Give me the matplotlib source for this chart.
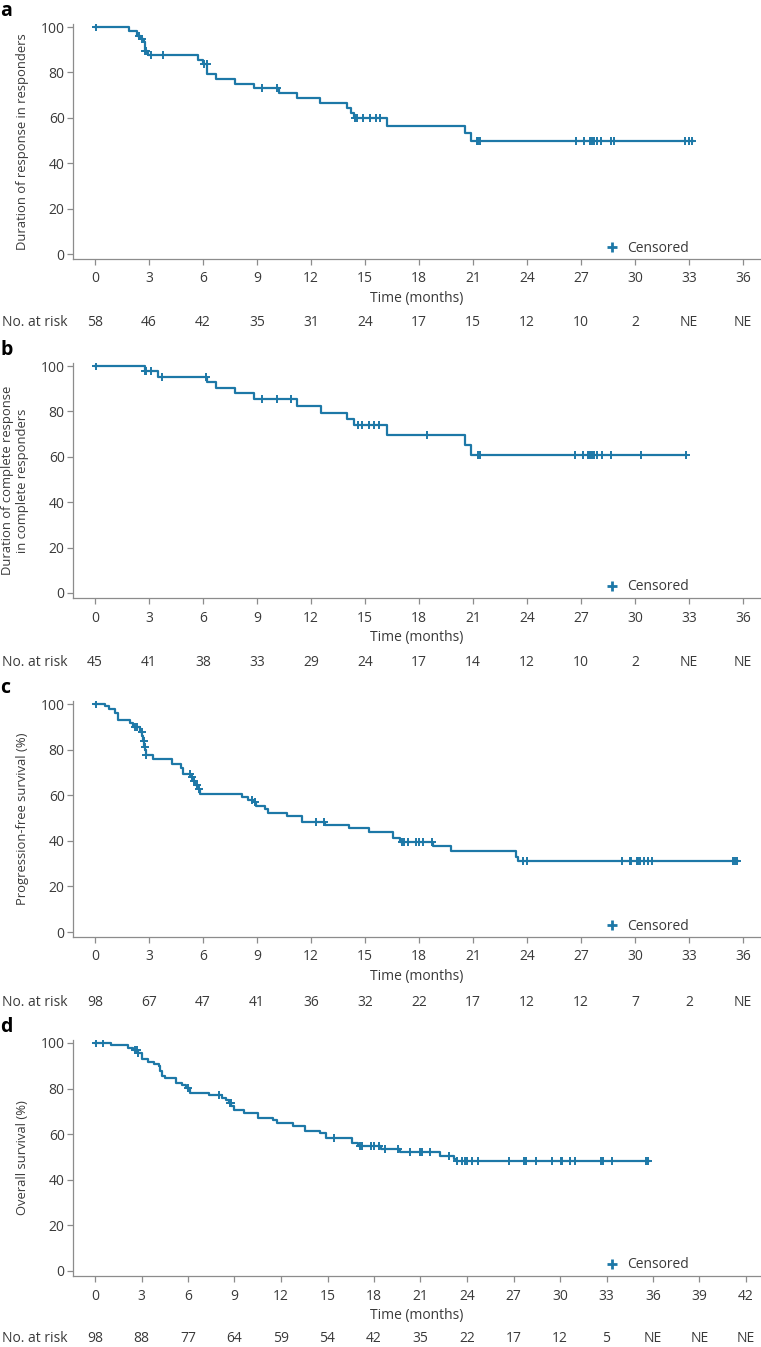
import numpy as np
import matplotlib
matplotlib.use("Agg")
import matplotlib.pyplot as plt
import matplotlib.transforms as mtransforms
from matplotlib.lines import Line2D

plt.rcParams['font.family'] = ['Open Sans', 'DejaVu Sans']

W, H = 761, 1347
LINE = "#1d78a7"
GREY = "#8c8c8c"
TXT = "#3a3a3a"

# ---- panel a : duration of response in responders
a_t = [0, 1.9, 2.35, 2.55, 2.7, 2.75, 2.96, 5.74, 6.02, 6.24, 6.72, 7.8, 8.83,
       10.2, 11.2, 12.5, 14.0, 14.2, 14.4, 16.2, 20.56, 20.89]
a_s = [100, 98.3, 95.9, 94.6, 93.3, 89.6, 87.6, 85.5, 83.6, 79.3, 77.1, 75.1, 73.0,
       70.9, 68.6, 66.3, 64.1, 62.0, 59.8, 56.4, 53.2, 49.8]
a_end = 33.2
a_cens = [0.05, 2.45, 2.6, 2.8, 2.85, 3.1, 3.8, 6.05, 6.2, 9.3, 10.1, 14.45, 14.55,
          14.9, 15.3, 15.6, 15.85, 21.2, 21.3, 21.4, 26.7, 27.15, 27.5, 27.6, 27.7,
          27.9, 28.1, 28.65, 28.85, 32.8, 33.0, 33.15]
a_risk = ["58", "46", "42", "35", "31", "24", "17", "15", "12", "10", "2", "NE", "NE"]

# ---- panel b : duration of complete response
b_t = [0, 2.78, 3.52, 6.22, 6.72, 7.8, 8.83, 11.24, 12.54, 14.0, 14.4, 16.2, 20.56, 20.89]
b_s = [100, 97.8, 95.3, 93.1, 90.5, 88.0, 85.3, 82.3, 79.3, 76.5, 74.0, 69.6, 65.2, 60.8]
b_end = 32.85
b_cens = [0.05, 2.78, 2.85, 3.1, 3.74, 6.15, 9.3, 10.1, 10.87, 14.6, 14.85, 15.2,
          15.5, 15.8, 18.43, 21.26, 21.39, 26.67, 27.13, 27.4, 27.5, 27.6, 27.7,
          27.9, 28.15, 28.67, 30.33, 32.83]
b_risk = ["45", "41", "38", "33", "29", "24", "17", "14", "12", "10", "2", "NE", "NE"]

# ---- panel c : progression-free survival
c_t = [0, 0.56, 0.8, 1.1, 1.3, 1.94, 2.13, 2.5, 2.62, 2.68, 2.72, 2.78, 2.85, 3.24,
       4.26, 4.8, 4.88, 5.35, 5.45, 5.55, 5.7, 5.83, 8.15, 8.52, 8.85, 8.94, 9.44,
       9.63, 10.65, 11.48, 12.78, 14.13, 15.24, 16.57, 16.94, 18.76, 19.78, 23.39, 23.5]
c_s = [100, 99.0, 97.9, 95.9, 92.8, 91.8, 89.8, 87.9, 85.8, 83.6, 81.3, 79.8, 77.7,
       75.8, 73.8, 71.8, 69.3, 67.8, 66.2, 64.5, 62.6, 60.5, 59.3, 58.0, 56.8, 55.4,
       53.9, 52.4, 51.0, 48.3, 47.0, 45.5, 44.0, 41.1, 39.6, 37.7, 35.5, 33.0, 31.3]
c_end = 35.7
c_cens = [0.05, 2.2, 2.35, 2.6, 2.7, 2.75, 2.85, 5.3, 5.4, 5.5, 5.65, 5.78, 8.74,
          8.89, 12.3, 12.7, 17.04, 17.17, 17.41, 17.83, 18.02, 18.24, 18.71, 23.8,
          23.98, 29.26, 29.72, 29.8, 30.1, 30.17, 30.25, 30.5, 30.74, 30.93, 35.46,
          35.55, 35.65]
c_risk = ["98", "67", "47", "41", "36", "32", "22", "17", "12", "12", "7", "2", "NE"]

# ---- panel d : overall survival
d_t = [0, 1.04, 2.16, 2.44, 2.75, 3.02, 3.39, 3.78, 4.1, 4.2, 4.32, 4.5, 5.22, 5.6,
       5.9, 6.1, 7.34, 8.2, 8.42, 8.63, 8.8, 8.96, 9.6, 10.53, 11.5, 11.76, 12.78,
       13.53, 14.53, 14.9, 16.55, 16.94, 18.45, 19.68, 22.26, 23.16, 23.3]
d_s = [100, 99.0, 98.0, 96.9, 95.8, 92.8, 91.8, 90.8, 89.7, 87.6, 85.6, 84.5, 82.5,
       81.4, 80.3, 78.2, 77.1, 76.0, 74.9, 73.6, 72.4, 70.5, 69.3, 67.3, 66.1, 65.0,
       63.8, 61.6, 60.5, 58.4, 56.2, 54.8, 53.6, 52.2, 50.4, 49.3, 48.4]
d_end = 35.76
d_cens = [0.05, 0.54, 2.6, 2.7, 2.8, 6.0, 7.99, 8.7, 8.75, 15.43, 17.1, 17.25, 17.8,
          18.0, 18.3, 18.7, 19.57, 20.3, 21.0, 21.08, 21.6, 22.84, 23.38, 23.7, 23.85,
          23.98, 24.34, 24.73, 26.73, 27.65, 27.8, 28.43, 29.46, 30.05, 30.15, 30.65,
          30.97, 32.65, 32.75, 33.33, 35.55, 35.65]
d_risk = ["98", "88", "77", "64", "59", "54", "42", "35", "22", "17", "12", "5",
          "NE", "NE", "NE"]

fig = plt.figure(figsize=(W / 100, H / 100), dpi=100)


def draw_panel(letter, y100, y0, t, s, end, cens, xmax, ppm, risk, ylabel, risk_y):
    left, right = 73, 761
    spine = y0 + 5
    ppu = (y0 - y100) / 100.0
    top = y100 - 3
    ax = fig.add_axes([left / W, 1 - spine / H, (right - left) / W, (spine - top) / H])
    ax.set_ylim(-5 / ppu, 100 + 3 / ppu)
    ax.set_xlim(-(95 - left) / ppm, (right - 95) / ppm)

    t = np.array(t + [end])
    s = np.array(s + [s[-1]])
    ax.step(t, s, where='post', color=LINE, lw=1.6, zorder=3)
    cens = np.array(cens)
    idx = np.searchsorted(t, cens, side='right') - 1
    ax.plot(cens, s[idx], ls='none', marker='+', ms=6, mew=1.4, color=LINE, zorder=4)

    for sp in ['top', 'right']:
        ax.spines[sp].set_visible(False)
    for sp in ['left', 'bottom']:
        ax.spines[sp].set_color(GREY)
        ax.spines[sp].set_linewidth(0.9)
    ticks = np.arange(0, xmax + 1, 3)
    ax.set_xticks(ticks)
    ax.set_yticks([0, 20, 40, 60, 80, 100])
    ax.tick_params(axis='x', length=4.5, width=0.9, color=GREY, pad=4.5,
                   labelsize=10, labelcolor=TXT)
    ax.tick_params(axis='y', length=4.5, width=0.9, color=GREY, pad=1.5,
                   labelsize=10, labelcolor=TXT)

    ax.set_ylabel(ylabel, fontsize=9.4, color=TXT, linespacing=1.2)
    ax.yaxis.set_label_coords((29 - left) / (right - left), 0.5)
    ax.set_xlabel("Time (months)", fontsize=10, color=TXT)
    ax.xaxis.set_label_coords(0.5, -(291 - 259) / (spine - top))

    handle = Line2D([], [], ls='none', marker='+', ms=7, mew=2, color=LINE)
    leg = ax.legend([handle], ["Censored"], loc='center left', frameon=False,
                    bbox_to_anchor=((604 - left) / (right - left), (spine - (y0 - 6)) / (spine - top)),
                    borderaxespad=0, borderpad=0, handlelength=1.2, handletextpad=0.5,
                    fontsize=10)
    for txt in leg.get_texts():
        txt.set_color(TXT)

    trans = mtransforms.blended_transform_factory(ax.transData, fig.transFigure)
    fig.text(2 / W, 1 - risk_y / H, "No. at risk", fontsize=10, color=TXT,
             ha='left', va='center')
    for x, r in zip(ticks, risk):
        ax.text(x, 1 - risk_y / H, r, transform=trans, fontsize=10, color=TXT,
                ha='center', va='center')

    fig.text(0, 1 - (y100 - 16) / H, letter, fontsize=14, fontweight='bold',
             color='black', ha='left', va='center')
    return ax


draw_panel("a", 27, 254, a_t, a_s, a_end, a_cens, 36, 18.0, a_risk,
           "Duration of response in responders", 323)
draw_panel("b", 366, 593, b_t, b_s, b_end, b_cens, 36, 18.0, b_risk,
           "Duration of complete response\nin complete responders", 662)
draw_panel("c", 704, 932, c_t, c_s, c_end, c_cens, 36, 18.0, c_risk,
           "Progression-free survival (%)", 1003)
draw_panel("d", 1043, 1271, d_t, d_s, d_end, d_cens, 42, 15.5, d_risk,
           "Overall survival (%)", 1339)

fig.savefig("out.png", dpi=100)
